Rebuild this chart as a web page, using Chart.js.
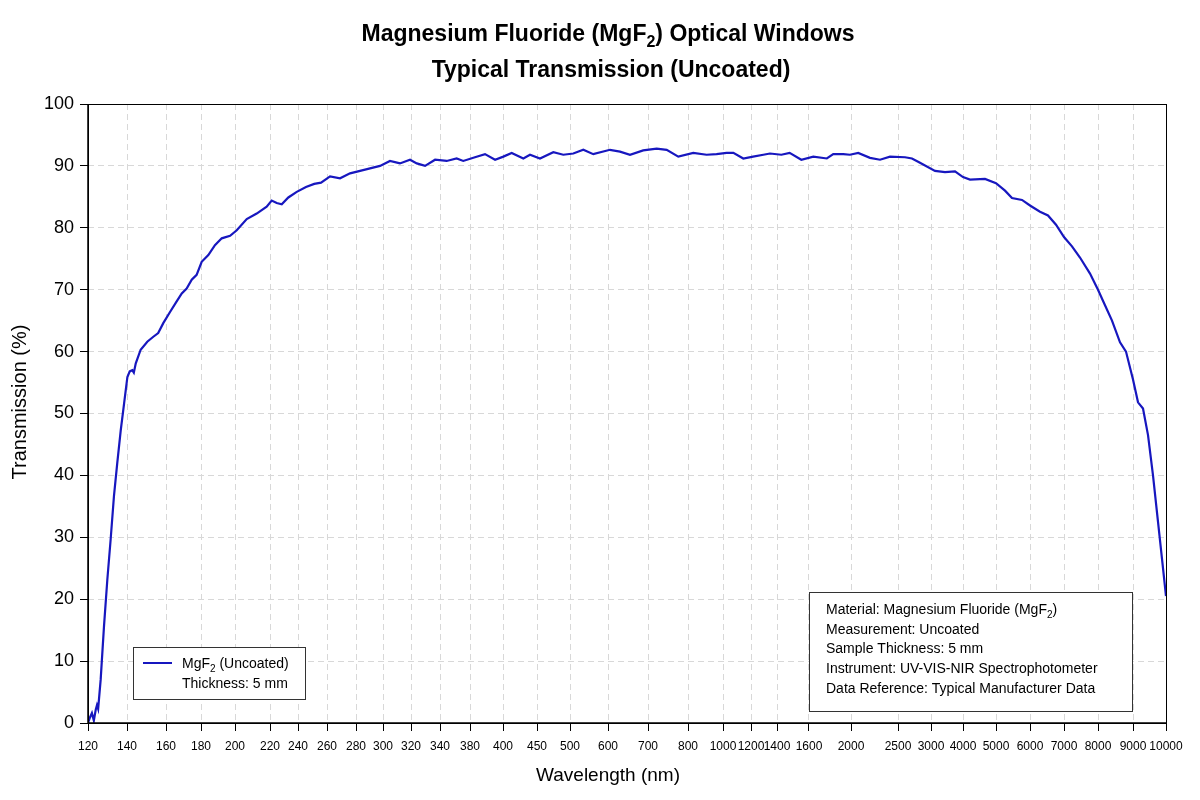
<!DOCTYPE html>
<html>
<head>
<meta charset="utf-8">
<title>MgF2 Optical Windows - Transmission</title>
<script src="https://cdn.jsdelivr.net/npm/chart.js@4.4.1/dist/chart.umd.min.js"></script>
<style>
  html, body { margin: 0; padding: 0; background: #fff; }
</style>
</head>
<body>
<canvas id="transChart" width="1200" height="800"></canvas>
<script>
// ---------------- DATA ----------------
const wavelengths = [
  120, 121, 122, 123, 124, 124.6, 125.2, 126.5, 128.2, 129.9,
  131.6, 133.3, 135, 136.8, 138.5, 140.2, 141.4, 142.7, 143.5, 144.5,
  147, 150.4, 153.5, 156, 158.6, 162.3, 166.1, 169, 171.8, 174.7,
  177.5, 180.4, 184.3, 188.2, 192.2, 197.1, 201, 206.7, 212.4, 218.1,
  221.2, 224.8, 228.4, 233.1, 239.1, 245.5, 251.2, 255.9, 262.1, 269,
  275.9, 283, 290.4, 297.8, 305, 312.1, 319.3, 324, 329.7, 336.6,
  348.9, 362.2, 371, 383, 389.1, 395.2, 400.5, 412.8, 429.9, 439.7,
  454.5, 474.7, 489.8, 508.7, 535, 561.3, 605, 630, 655, 688,
  721.7, 746.7, 775.7, 830, 906, 963, 1026, 1074, 1145, 1216,
  1295, 1346, 1427, 1479, 1552, 1641, 1770, 1831, 1927, 1990,
  2077, 2202, 2309, 2415, 2606, 2712, 2833, 3125, 3437, 3750,
  4000, 4212, 4667, 5000, 5265, 5470, 5765, 6000, 6294, 6529,
  6765, 7000, 7235, 7470, 7765, 8000, 8200, 8400, 8629, 8800,
  9000, 9152, 9303, 9455, 9606, 9758, 9879, 10000
];

const transmission = [
  0.0, 0.9, 1.6, 0.4, 2.2, 2.9, 2.3, 7.0, 15.6, 23.1,
  29.6, 36.6, 42.0, 47.3, 51.6, 55.9, 56.8, 57.0, 56.6, 58.1,
  60.3, 61.6, 62.4, 63.0, 64.6, 66.4, 68.1, 69.4, 70.2, 71.6,
  72.4, 74.5, 75.6, 77.2, 78.3, 78.7, 79.6, 81.4, 82.3, 83.4,
  84.4, 84.0, 83.8, 84.9, 85.8, 86.6, 87.1, 87.3, 88.3, 88.0,
  88.8, 89.2, 89.6, 90.0, 90.8, 90.4, 91.0, 90.4, 90.0, 91.0,
  90.8, 91.2, 90.8, 91.4, 91.9, 91.0, 91.5, 92.1, 91.2, 91.8,
  91.2, 92.2, 91.8, 92.0, 92.6, 91.9, 92.6, 92.3, 91.8, 92.5,
  92.8, 92.6, 91.5, 92.1, 91.8, 91.9, 92.1, 92.1, 91.2, 91.5,
  91.8, 92.0, 91.8, 92.1, 91.0, 91.5, 91.2, 91.9, 91.9, 91.8,
  92.1, 91.3, 91.0, 91.5, 91.4, 91.2, 90.5, 89.2, 89.0, 89.1,
  88.2, 87.8, 87.9, 87.2, 86.0, 84.8, 84.5, 83.6, 82.6, 82.0,
  80.5, 78.5, 77.0, 75.2, 72.6, 70.0, 67.5, 65.0, 61.5, 60.0,
  55.5, 51.8, 50.8, 46.5, 40.0, 32.5, 26.5, 20.5
];

// x axis tick labels (nm) - the axis is not linear, so each tick gets its own slot
const tickWavelengths = [
  120, 140, 160, 180, 200, 220, 240, 260, 280, 300, 320, 340, 380, 400, 450,
  500, 600, 700, 800, 1000, 1200, 1400, 1600, 2000, 2500, 3000, 4000, 5000,
  6000, 7000, 8000, 9000, 10000
];
// where each tick sits along the axis (axis units, 0 .. 1078)
const tickSlots = [
  0, 39, 78, 113, 147, 182, 210, 239, 268, 295, 323, 352, 382, 415, 449,
  482, 520, 560, 600, 635, 663, 689, 721, 763, 810, 843, 875, 908,
  942, 976, 1010, 1045, 1078
];

const yTicks = [0, 10, 20, 30, 40, 50, 60, 70, 80, 90, 100];

const titleLines = [
  [{ t: "Magnesium Fluoride (MgF" }, { t: "2", sub: true }, { t: ") Optical Windows" }],
  [{ t: "Typical Transmission (Uncoated)" }]
];
const xTitle = "Wavelength (nm)";
const yTitle = "Transmission (%)";
const legendLines = [
  [{ t: "MgF" }, { t: "2", sub: true }, { t: " (Uncoated)" }],
  [{ t: "Thickness: 5 mm" }]
];
const infoLines = [
  [{ t: "Material: Magnesium Fluoride (MgF" }, { t: "2", sub: true }, { t: ")" }],
  [{ t: "Measurement: Uncoated" }],
  [{ t: "Sample Thickness: 5 mm" }],
  [{ t: "Instrument: UV-VIS-NIR Spectrophotometer" }],
  [{ t: "Data Reference: Typical Manufacturer Data" }]
];

// ---------------- HELPERS ----------------
const FONT = '"Liberation Sans", Arial, Helvetica, sans-serif';
const LINE_BLUE = "#1717bf";

// piecewise-linear wavelength -> axis slot
function toSlot(w) {
  for (let i = 0; i < tickWavelengths.length - 1; i++) {
    const a = tickWavelengths[i], b = tickWavelengths[i + 1];
    if (w <= b) {
      return tickSlots[i] + (w - a) / (b - a) * (tickSlots[i + 1] - tickSlots[i]);
    }
  }
  return tickSlots[tickSlots.length - 1];
}

function drawRich(ctx, segs, x, y, size, bold, align) {
  const font = sub => (bold ? "bold " : "") + (sub ? Math.round(size * 0.68) : size) + "px " + FONT;
  let total = 0;
  segs.forEach(s => {
    ctx.font = font(s.sub);
    s.w = ctx.measureText(s.t).width;
    total += s.w;
  });
  let cx = align === "center" ? x - total / 2 : x;
  ctx.textAlign = "left";
  ctx.textBaseline = "alphabetic";
  segs.forEach(s => {
    ctx.font = font(s.sub);
    ctx.fillText(s.t, cx, s.sub ? y + size * 0.25 : y);
    cx += s.w;
  });
}

// ---------------- PLUGINS ----------------
const framePlugin = {
  id: "frame",
  afterDatasetsDraw(chart) {
    const { ctx, chartArea: a } = chart;
    ctx.save();
    ctx.strokeStyle = "#000";
    ctx.lineWidth = 1;
    ctx.strokeRect(a.left + 0.5, a.top + 0.5, a.right - a.left, a.bottom - a.top);
    ctx.lineWidth = 1.5;
    ctx.beginPath();
    ctx.moveTo(a.left, a.top);
    ctx.lineTo(a.left, a.bottom);
    ctx.lineTo(a.right, a.bottom);
    ctx.stroke();
    ctx.restore();
  }
};

const textPlugin = {
  id: "texts",
  afterDraw(chart) {
    const ctx = chart.ctx;
    ctx.save();
    ctx.fillStyle = "#000";

    // title
    drawRich(ctx, titleLines[0], 608, 41, 23, true, "center");
    drawRich(ctx, titleLines[1], 611, 77, 23, true, "center");

    // axis titles
    ctx.font = "19px " + FONT;
    ctx.textAlign = "center";
    ctx.textBaseline = "middle";
    ctx.fillText(xTitle, 608, 776);
    ctx.save();
    ctx.translate(20, 402);
    ctx.rotate(-Math.PI / 2);
    ctx.font = "20px " + FONT;
    ctx.fillText(yTitle, 0, 0);
    ctx.restore();

    // legend box
    ctx.fillStyle = "#fff";
    ctx.fillRect(133, 647, 173, 53);
    ctx.strokeStyle = "#333";
    ctx.lineWidth = 1;
    ctx.strokeRect(133.5, 647.5, 172, 52);
    ctx.strokeStyle = LINE_BLUE;
    ctx.lineWidth = 2;
    ctx.beginPath();
    ctx.moveTo(143, 663);
    ctx.lineTo(172, 663);
    ctx.stroke();
    ctx.fillStyle = "#000";
    drawRich(ctx, legendLines[0], 182, 668, 14, false, "left");
    drawRich(ctx, legendLines[1], 182, 688, 14, false, "left");

    // info box
    ctx.fillStyle = "#fff";
    ctx.fillRect(809, 592, 324, 120);
    ctx.strokeStyle = "#333";
    ctx.lineWidth = 1;
    ctx.strokeRect(809.5, 592.5, 323, 119);
    ctx.fillStyle = "#000";
    infoLines.forEach((line, i) => {
      drawRich(ctx, line, 826, 614 + i * 19.7, 14, false, "left");
    });

    ctx.restore();
  }
};

// ---------------- CHART ----------------
const points = wavelengths.map((w, i) => ({ x: toSlot(w), y: transmission[i] }));

const gridStyle = {
  color: "#d8d8d8",
  lineWidth: 1,
  tickColor: "#000",
  tickLength: 8,
  tickWidth: 1
};

new Chart(document.getElementById("transChart"), {
  type: "line",
  data: {
    datasets: [{
      label: "MgF2 (Uncoated)",
      data: points,
      borderColor: LINE_BLUE,
      borderWidth: 2.2,
      pointRadius: 0,
      tension: 0,
      fill: false
    }]
  },
  options: {
    responsive: false,
    animation: false,
    layout: { padding: { top: 104, right: 34, left: 0, bottom: 0 } },
    plugins: {
      legend: { display: false },
      title: { display: false },
      tooltip: { enabled: false }
    },
    scales: {
      x: {
        type: "linear",
        min: tickSlots[0],
        max: tickSlots[tickSlots.length - 1],
        afterBuildTicks: axis => { axis.ticks = tickSlots.map(v => ({ value: v })); },
        afterFit: axis => { axis.height = 77; },
        ticks: {
          autoSkip: false,
          maxRotation: 0,
          minRotation: 0,
          padding: 8,
          color: "#000",
          font: { family: FONT, size: 12 },
          callback: (v, i) => tickWavelengths[i]
        },
        grid: gridStyle,
        border: { display: false, dash: [6, 4] }
      },
      y: {
        min: 0,
        max: 100,
        afterBuildTicks: axis => { axis.ticks = yTicks.map(v => ({ value: v })); },
        afterFit: axis => { axis.width = 88; },
        ticks: {
          padding: 6,
          color: "#000",
          font: { family: FONT, size: 18 }
        },
        grid: gridStyle,
        border: { display: false, dash: [6, 4] }
      }
    }
  },
  plugins: [framePlugin, textPlugin]
});
</script>
</body>
</html>
